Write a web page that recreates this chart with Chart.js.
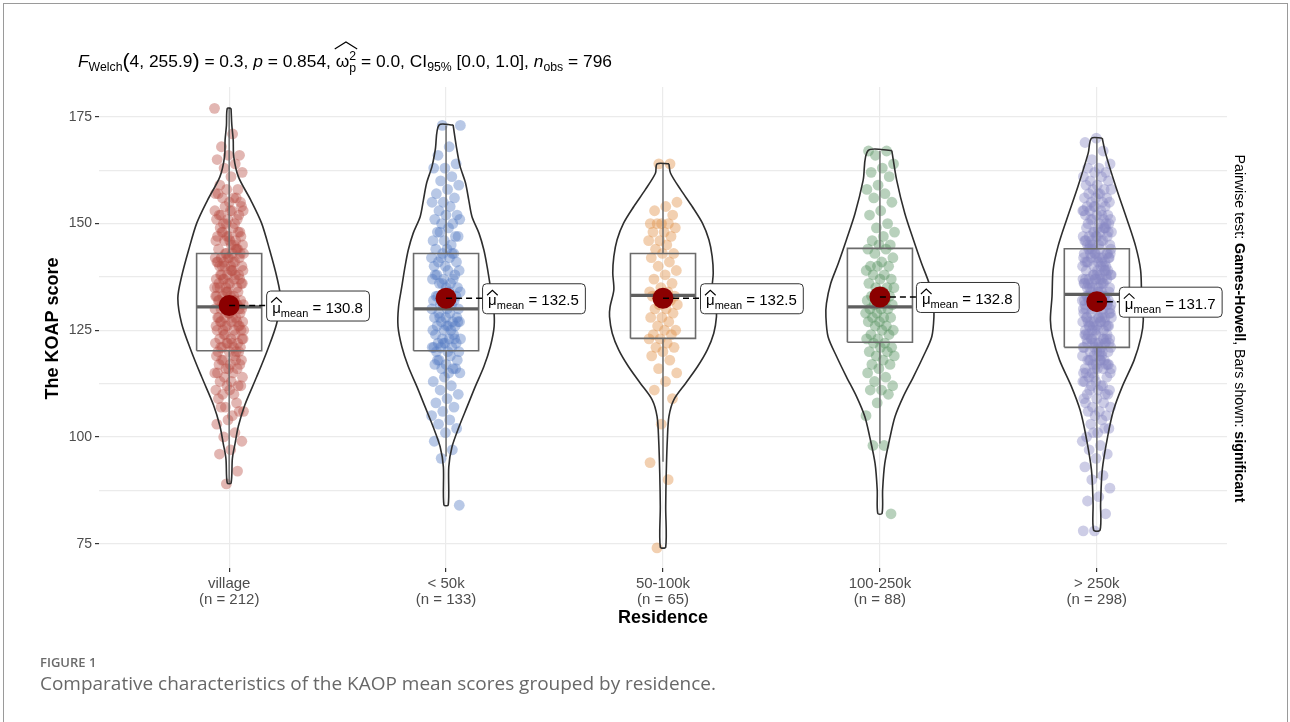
<!DOCTYPE html>
<html><head><meta charset="utf-8">
<script src="https://cdn.jsdelivr.net/npm/chart.js@4.4.1/dist/chart.umd.min.js"></script>
<style>html,body{margin:0;padding:0;background:#fff;}canvas{display:block;}</style>
</head><body>
<canvas id="c" width="1290" height="722"></canvas>
<script>
// ---------------- data ----------------
const categories = ['village', '< 50k', '50-100k', '100-250k', '> 250k'];
const groupSizes = [212, 133, 65, 88, 298];
const meanValues = [130.8, 132.5, 132.5, 132.8, 131.7];
const boxLower = [89, 95.4, 94.2, 98.5, 90.3];
const boxQ1 = [120.2, 120.2, 123.1, 122.2, 121.0];
const boxMedian = [130.5, 130.0, 133.2, 130.5, 133.4];
const boxQ3 = [143.0, 143.0, 143.0, 144.2, 144.1];
const boxUpper = [177, 173, 164, 167, 170];
const yMajorTicks = [75, 100, 125, 150, 175];
const yMinorTicks = [87.5, 112.5, 137.5, 162.5];

// violin outlines: score levels and relative half-widths
const violinVillageY = [177, 173, 169.6, 165.7, 161, 155.5, 150.1, 143.8, 137.6, 132.5, 126.6, 120.4, 114.1, 107.5, 102.5, 98.5, 95, 89.2];
const violinVillageW = [0.035, 0.05, 0.075, 0.085, 0.17, 0.40, 0.60, 0.75, 0.88, 0.95, 0.88, 0.71, 0.51, 0.29, 0.17, 0.11, 0.06, 0.035];
const violinLt50Y = [173.1, 167.3, 163.4, 159.5, 155.5, 151.6, 147.7, 143.8, 139.9, 135.2, 130.5, 125.9, 121.2, 116.5, 111.8, 107.1, 102.4, 97.7, 93, 84.1];
const violinLt50W = [0.13, 0.20, 0.26, 0.36, 0.42, 0.48, 0.61, 0.70, 0.76, 0.82, 0.88, 0.89, 0.82, 0.70, 0.54, 0.39, 0.24, 0.11, 0.05, 0.04];
const violin50to100Y = [164, 161.8, 157.9, 154, 150.1, 146.2, 142.3, 138.4, 134.5, 130.5, 128.2, 124.3, 120.4, 116.5, 112.6, 108.7, 104.8, 99.3, 91.5, 83.7, 74.2];
const violin50to100W = [0.11, 0.14, 0.33, 0.54, 0.73, 0.85, 0.91, 0.93, 0.91, 0.98, 0.99, 0.94, 0.82, 0.64, 0.42, 0.20, 0.11, 0.08, 0.06, 0.05, 0.05];
const violin100to250Y = [167.1, 160.2, 152.4, 146.2, 140.7, 136, 131.3, 128.2, 123.5, 118.8, 114.1, 109.4, 104.8, 100.1, 93.8, 87.6, 82.1];
const violin100to250W = [0.22, 0.31, 0.46, 0.62, 0.77, 0.91, 0.99, 1.0, 0.96, 0.80, 0.62, 0.43, 0.28, 0.19, 0.09, 0.05, 0.04];
const violinGt250Y = [170, 166.5, 158.7, 150.9, 144.6, 139.1, 132.9, 127.4, 123.5, 118, 111.8, 106.3, 100.1, 92.3, 84.5, 78.2];
const violinGt250W = [0.10, 0.16, 0.35, 0.56, 0.72, 0.81, 0.83, 0.86, 0.82, 0.69, 0.47, 0.31, 0.20, 0.10, 0.07, 0.06];

// individual KOAP scores (estimated from the jittered points)
const scoresVillage = [
177,171,168,166,166,165,164,163,162,161,
159,158,158,157,156,156,155,155,157,156,
154,153,153,152,152,151,151,150,150,154,153,152,151,150,153,
149,148,148,147,147,146,146,145,145,149,148,147,146,145,148,147,146,
144,144,143,143,143,142,142,142,141,141,141,140,140,140,144,143,142,141,140,143,142,141,144,140,
139,139,138,138,138,137,137,137,136,136,136,135,135,135,139,138,137,136,135,138,137,136,139,135,
134,134,133,133,133,132,132,132,131,131,131,130,130,130,134,133,132,131,130,133,132,131,134,130,132,131,
129,129,128,128,128,127,127,127,126,126,126,125,125,125,129,128,127,126,125,128,127,126,129,125,
124,124,123,123,123,122,122,122,121,121,121,120,120,120,124,123,122,121,120,122,
119,119,118,118,117,117,116,116,115,115,118,117,116,115,118,
114,114,113,113,112,112,111,110,110,112,111,
109,108,107,106,105,107,106,
104,103,101,100,
99,97,96,
92,89];
const scoresLt50 = [
173,173,168,166,
164,163,163,161,160,
159,158,157,156,155,155,
154,153,152,152,151,150,150,151,
149,148,147,146,146,145,148,147,
144,144,143,143,142,142,141,141,140,140,143,142,
139,139,138,138,137,137,136,136,135,135,138,137,136,
134,134,133,133,132,132,131,131,130,130,133,132,131,130,
129,129,128,128,128,127,127,127,126,126,126,125,125,125,128,127,126,
124,124,123,123,123,122,122,122,121,121,121,120,120,120,123,122,121,
119,118,118,117,117,116,116,115,115,118,116,
114,113,112,111,110,
109,108,107,106,105,
104,103,102,101,
99,97,95,
84];
const scores50to100 = [
164,164,155,154,153,152,150,150,150,150,149,148,148,147,146,146,145,144,143,143,
142,141,140,139,138,137,136,135,134,134,133,133,133,133,132,131,131,130,130,129,
128,128,127,126,125,125,124,124,123,123,122,121,121,120,119,118,116,115,113,111,
109,103,94,90,74];
const scores100to250 = [
167,167,166,164,163,162,161,159,158,157,156,155,153,152,150,149,148,147,146,145,
145,144,144,143,142,141,140,140,140,139,138,138,137,137,136,135,135,135,134,133,
133,133,132,132,131,131,130,130,130,129,129,128,128,128,127,127,126,126,125,125,
124,124,123,123,122,122,121,121,120,120,119,119,118,117,117,116,115,114,113,112,
111,111,110,108,105,98,98,82];
const scoresGt250 = [
170,169,167,165,
164,163,163,162,162,161,161,160,160,
159,159,158,158,158,157,157,156,156,156,155,155,155,157,
154,154,154,153,153,153,152,152,152,151,151,151,150,150,150,154,153,152,151,150,
149,149,149,148,148,148,147,147,147,146,146,146,145,145,145,149,148,147,146,145,148,147,146,149,145,
144,144,144,143,143,143,142,142,142,141,141,141,140,140,140,144,143,142,141,140,144,143,142,141,140,143,142,141,143,142,
139,139,139,138,138,138,137,137,137,136,136,136,135,135,135,139,138,137,136,135,139,138,137,136,135,138,137,136,138,137,136,137,
134,134,134,133,133,133,132,132,132,131,131,131,130,130,130,134,133,132,131,130,134,133,132,131,130,133,132,131,133,132,131,133,132,
129,129,129,128,128,128,127,127,127,126,126,126,125,125,125,129,128,127,126,125,129,128,127,126,125,128,127,126,128,127,126,
124,124,124,123,123,123,122,122,122,121,121,121,120,120,120,124,123,122,121,120,124,123,122,121,120,123,122,121,123,122,
119,119,118,118,117,117,116,116,115,115,119,118,117,116,115,119,118,117,116,115,118,117,116,118,
114,114,113,113,112,112,111,111,110,110,114,113,112,111,110,
109,108,108,107,107,106,106,105,105,109,
104,103,102,101,100,102,101,
99,98,97,96,95,
93,91,90,
88,86,85,
82,78,78];

const scoreLists = [scoresVillage, scoresLt50, scores50to100, scores100to250, scoresGt250];
const violinYs = [violinVillageY, violinLt50Y, violin50to100Y, violin100to250Y, violinGt250Y];
const violinWs = [violinVillageW, violinLt50W, violin50to100W, violin100to250W, violinGt250W];

// ---------------- styling ----------------
const FAM = '"Liberation Sans", Arial, Helvetica, sans-serif';
const pointColors = ['rgba(185,80,72,0.42)', 'rgba(85,125,195,0.42)', 'rgba(223,143,68,0.42)', 'rgba(85,145,95,0.42)', 'rgba(135,135,195,0.42)'];
const VIOLIN_HALF = 0.249;   // category units for relative width 1
const BOX_HALF = 0.15;
const JITTER = 0.135;

const datasets = [];
// mean points (top)
datasets.push({
  type: 'scatter', order: 0,
  data: meanValues.map((m, i) => ({ x: i + 1, y: m })),
  pointRadius: 10.5, pointBackgroundColor: '#8B0000', pointBorderWidth: 0, showLine: false
});
categories.forEach((c, i) => {
  const cx = i + 1;
  const ys = violinYs[i], ws = violinWs[i];
  const path = [];
  for (let k = 0; k < ys.length; k++) path.push({ x: cx + ws[k] * VIOLIN_HALF, y: ys[k] });
  for (let k = ys.length - 1; k >= 0; k--) path.push({ x: cx - ws[k] * VIOLIN_HALF, y: ys[k] });
  path.push(path[0]);
  datasets.push({ type: 'scatter', order: 1, data: path, showLine: true, borderColor: '#2e2e2e', borderWidth: 1.6, pointRadius: 0, tension: 0.3, fill: false });
  // box
  datasets.push({ type: 'scatter', order: 2, showLine: true, pointRadius: 0, borderColor: '#6b6b6b', borderWidth: 1.6, tension: 0,
    data: [{ x: cx - BOX_HALF, y: boxQ1[i] }, { x: cx + BOX_HALF, y: boxQ1[i] }, { x: cx + BOX_HALF, y: boxQ3[i] }, { x: cx - BOX_HALF, y: boxQ3[i] }, { x: cx - BOX_HALF, y: boxQ1[i] }] });
  datasets.push({ type: 'scatter', order: 2, showLine: true, pointRadius: 0, borderColor: '#5e5e5e', borderWidth: 3.2,
    data: [{ x: cx - BOX_HALF, y: boxMedian[i] }, { x: cx + BOX_HALF, y: boxMedian[i] }] });
  datasets.push({ type: 'scatter', order: 2, showLine: true, pointRadius: 0, borderColor: '#6b6b6b', borderWidth: 1.5,
    data: [{ x: cx, y: boxQ3[i] }, { x: cx, y: boxUpper[i] }] });
  datasets.push({ type: 'scatter', order: 2, showLine: true, pointRadius: 0, borderColor: '#6b6b6b', borderWidth: 1.5,
    data: [{ x: cx, y: boxQ1[i] }, { x: cx, y: boxLower[i] }] });
  // jittered points
  datasets.push({ type: 'scatter', order: 3, showLine: false, pointRadius: 5.4, pointBorderWidth: 0,
    pointBackgroundColor: pointColors[i],
    data: scoreLists[i].map((v, k) => {
      const f = (k * 0.6180339887 + i * 0.37) % 1;
      return { x: cx + (f - 0.5) * JITTER, y: v };
    }) });
});

// ---------------- helpers ----------------
function drawRich(ctx, segs, x, y, targetW) {
  let w = 0;
  segs.forEach(s => { ctx.font = s.f; if (!s.na) w += ctx.measureText(s.t).width; });
  const sx = targetW ? targetW / w : 1;
  ctx.save();
  ctx.translate(x, y); ctx.scale(sx, 1);
  ctx.textBaseline = 'alphabetic'; ctx.textAlign = 'left';
  let cx = 0, hx = null;
  segs.forEach(s => {
    ctx.font = s.f;
    if (s.hb) hx = cx;
    ctx.fillText(s.t, cx, s.dy || 0);
    const sw = ctx.measureText(s.t).width;
    if (!s.na) cx += sw;
    if (s.he && hx !== null) {
      ctx.beginPath(); ctx.lineWidth = 1.1; ctx.strokeStyle = ctx.fillStyle;
      ctx.moveTo(hx - 1, s.hy1); ctx.lineTo((hx + cx) / 2, s.hy0); ctx.lineTo(cx + 1, s.hy1); ctx.stroke();
    }
  });
  ctx.restore();
  return w * sx;
}

const labelOffsets = [37, 36, 37, 36, 22];

const decor = {
  id: 'decor',
  beforeDraw(chart) {
    const ctx = chart.ctx;
    ctx.save(); ctx.fillStyle = '#fff'; ctx.fillRect(0, 0, chart.width, chart.height); ctx.restore();
  },
  afterDatasetsDraw(chart) {
    const ctx = chart.ctx, xs = chart.scales.x, ys = chart.scales.y;
    meanValues.forEach((m, i) => {
      const px = xs.getPixelForValue(i + 1), py = ys.getPixelForValue(m);
      const lx = px + labelOffsets[i];
      ctx.save();
      ctx.beginPath(); ctx.setLineDash([6, 4]); ctx.lineWidth = 1.6; ctx.strokeStyle = '#000';
      ctx.moveTo(px, py); ctx.lineTo(lx, py); ctx.stroke();
      ctx.setLineDash([]);
      const segs = [
        { t: 'μ', f: '15px ' + FAM, dy: 0, hb: true, he: true, hy0: -15, hy1: -10 },
        { t: 'mean', f: '11px ' + FAM, dy: 4 },
        { t: ' = ' + m.toFixed(1), f: '15px ' + FAM, dy: 0 }
      ];
      let tw = 0; segs.forEach(s => { ctx.font = s.f; tw += ctx.measureText(s.t).width; });
      const bw = tw + 12, bh = 30, by = py - 15;
      ctx.beginPath(); ctx.roundRect(lx + 0.5, by + 0.5, bw, bh, 4);
      ctx.fillStyle = '#fff'; ctx.fill(); ctx.lineWidth = 1; ctx.strokeStyle = '#333'; ctx.stroke();
      ctx.fillStyle = '#000';
      drawRich(ctx, segs, lx + 6, py + 7);
      ctx.restore();
    });
  },
  afterDraw(chart) {
    const ctx = chart.ctx, ca = chart.chartArea;
    ctx.save();
    // card border
    ctx.strokeStyle = '#9a9a9a'; ctx.lineWidth = 1;
    ctx.strokeRect(3.5, 3.5, 1284, 740);
    // subtitle
    ctx.fillStyle = '#000';
    const B = '17px ' + FAM, S = '12px ' + FAM, I = 'italic 17px ' + FAM, P = '21px ' + FAM;
    drawRich(ctx, [
      { t: 'F', f: I }, { t: 'Welch', f: S, dy: 4 }, { t: '(', f: P, dy: 1 }, { t: '4, 255.9', f: B }, { t: ')', f: P, dy: 1 },
      { t: ' = 0.3, ', f: B }, { t: 'p', f: I }, { t: ' = 0.854, ', f: B },
      { t: 'ω', f: B, hb: true }, { t: '2', f: S, dy: -7, na: true }, { t: 'p', f: S, dy: 5, he: true, hy0: -25, hy1: -18 },
      { t: ' = 0.0, CI', f: B }, { t: '95%', f: S, dy: 4 }, { t: ' [0.0, 1.0], ', f: B },
      { t: 'n', f: I }, { t: 'obs', f: S, dy: 4 }, { t: ' = 796', f: B }
    ], 78, 67, 534);
    // y axis title
    ctx.save();
    ctx.translate(53, (ca.top + ca.bottom) / 2 + 1);
    ctx.rotate(-Math.PI / 2);
    ctx.font = 'bold 18px ' + FAM; ctx.textAlign = 'center'; ctx.textBaseline = 'middle';
    ctx.fillText('The KOAP score', 0, 0);
    ctx.restore();
    // x axis title
    ctx.font = 'bold 18px ' + FAM; ctx.textAlign = 'center'; ctx.textBaseline = 'middle';
    ctx.fillText('Residence', (ca.left + ca.right) / 2, 618);
    // right side caption
    ctx.save();
    ctx.translate(1240, (ca.top + ca.bottom) / 2 + 1);
    ctx.rotate(Math.PI / 2);
    const N = '14px ' + FAM, BB = 'bold 14px ' + FAM;
    const rs = [{ t: 'Pairwise test: ', f: N }, { t: 'Games-Howell', f: BB }, { t: ', Bars shown: ', f: N }, { t: 'significant', f: BB }];
    ctx.fillStyle = '#000';
    drawRich(ctx, rs, -174, 5, 348);
    ctx.restore();
    // figure caption
    ctx.textAlign = 'left'; ctx.textBaseline = 'alphabetic';
    ctx.fillStyle = '#6b6b6b';
    ctx.font = '600 13px "Open Sans", ' + FAM;
    ctx.fillText('FIGURE 1', 40, 667);
    ctx.fillStyle = '#686868';
    drawRich(ctx, [{ t: 'Comparative characteristics of the KAOP mean scores grouped by residence.', f: '18px "Open Sans", ' + FAM }], 40, 690, 676);
    ctx.restore();
  }
};

new Chart(document.getElementById('c'), {
  type: 'scatter',
  data: { datasets },
  options: {
    responsive: false, animation: false, devicePixelRatio: 1,
    layout: { padding: { left: 0, top: 87, right: 63, bottom: 94 } },
    plugins: { legend: { display: false }, tooltip: { enabled: false } },
    scales: {
      x: {
        type: 'linear', min: 0.4, max: 5.6,
        afterBuildTicks: s => { s.ticks = categories.map((c, i) => ({ value: i + 1 })); },
        afterFit: s => { s.height = 60; },
        ticks: {
          autoSkip: false, maxRotation: 0, padding: 4, color: '#4d4d4d',
          font: { family: FAM, size: 15, lineHeight: 1.07 },
          callback: v => [categories[v - 1], '(n = ' + groupSizes[v - 1] + ')']
        },
        grid: { color: '#ebebeb', lineWidth: 1.2, tickColor: '#333', tickLength: 4 },
        border: { display: false }
      },
      y: {
        type: 'linear', min: 69.3, max: 182.0,
        afterBuildTicks: s => { s.ticks = yMajorTicks.concat(yMinorTicks).sort((a, b) => a - b).map(v => ({ value: v })); },
        afterFit: s => { s.width = 99; },
        ticks: {
          padding: 3, color: '#4d4d4d', font: { family: FAM, size: 14 },
          callback: v => (yMajorTicks.includes(v) ? String(v) : '')
        },
        grid: {
          color: '#ebebeb', lineWidth: 1.2, tickLength: 4,
          tickColor: c => (c.tick && yMajorTicks.includes(c.tick.value)) ? '#333' : 'rgba(0,0,0,0)'
        },
        border: { display: false }
      }
    }
  },
  plugins: [decor]
});
</script>
</body></html>
